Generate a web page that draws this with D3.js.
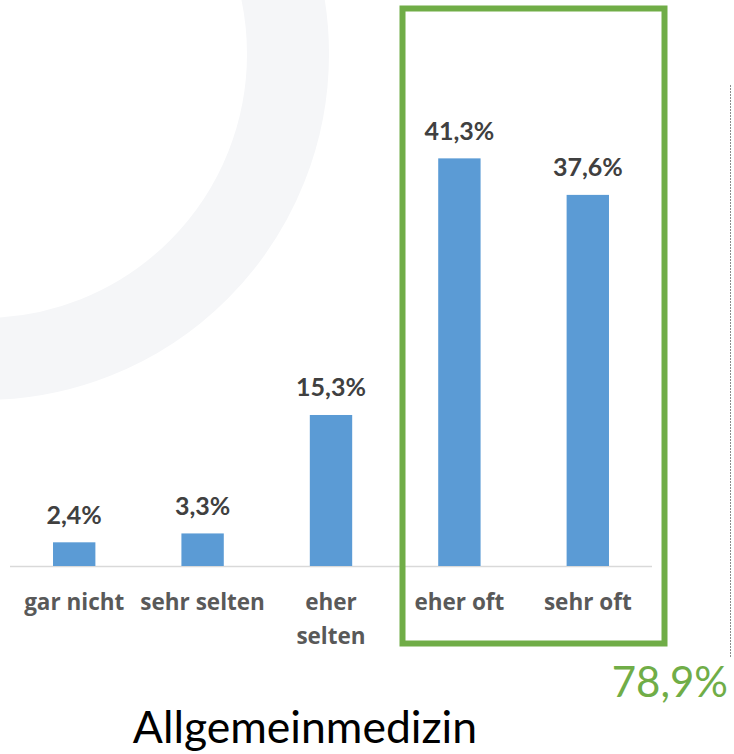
<!DOCTYPE html>
<html>
<head>
<meta charset="utf-8">
<script src="https://cdn.jsdelivr.net/npm/d3@7"></script>
<style>
  html, body { margin: 0; padding: 0; background: #fff; }
  svg { display: block; font-family: Lato, "Open Sans", sans-serif; }
</style>
</head>
<body>
<div id="chart"></div>
<script>
// values
const categories = ["gar nicht", "sehr selten", "eher selten", "eher oft", "sehr oft"]
const categoryLines = [["gar nicht"], ["sehr selten"], ["eher", "selten"], ["eher oft"], ["sehr oft"]]
const values = [2.4, 3.3, 15.3, 41.3, 37.6]
const valueLabels = ["2,4%", "3,3%", "15,3%", "41,3%", "37,6%"]
const highlightTotal = "78,9%"
const title = "Allgemeinmedizin"

const width = 734
const height = 754
const baseline = 566

const svg = d3.select("#chart")
    .append("svg")
    .attr("width", width)
    .attr("height", height)
    .attr("viewBox", [0, 0, width, height])

const layer_bg = svg.append("g")
const layer_bars = svg.append("g")
const layer_text = svg.append("g")

// faint ring from the slide template
layer_bg.append("circle")
    .attr("cx", -17)
    .attr("cy", 54)
    .attr("r", 305)
    .attr("fill", "none")
    .attr("stroke", "#f5f6f8")
    .attr("stroke-width", 82)

const x = d3.scaleBand()
    .domain(categories)
    .range([10, 652])
    .paddingInner(0.67)
    .paddingOuter(0.335)

const y = d3.scaleLinear()
    .domain([0, 45])
    .range([baseline, baseline - 45 * 9.87])

// axis line
layer_bars.append("line")
    .attr("x1", x.range()[0])
    .attr("x2", x.range()[1])
    .attr("y1", baseline + 0.5)
    .attr("y2", baseline + 0.5)
    .attr("stroke", "#d9d9d9")
    .attr("stroke-width", 1.5)

layer_bars.selectAll("rect.bar")
    .data(values)
    .enter()
    .append("rect")
    .attr("class", "bar")
    .attr("x", (d, i) => x(categories[i]))
    .attr("width", x.bandwidth())
    .attr("y", d => y(d))
    .attr("height", d => y(0) - y(d))
    .attr("fill", "#5b9bd5")

layer_text.selectAll("text.value")
    .data(values)
    .enter()
    .append("text")
    .attr("class", "value")
    .attr("x", (d, i) => x(categories[i]) + x.bandwidth() / 2)
    .attr("y", d => y(d) - 18.5)
    .attr("text-anchor", "middle")
    .attr("font-size", 25)
    .attr("font-weight", "bold")
    .attr("fill", "#404040")
    .text((d, i) => valueLabels[i])

const cat = layer_text.selectAll("text.cat")
    .data(categories)
    .enter()
    .append("text")
    .attr("class", "cat")
    .attr("text-anchor", "middle")
    .attr("font-family", "'Open Sans', sans-serif")
    .attr("font-size", 22.5)
    .attr("font-weight", "bold")
    .attr("fill", "#595959")

cat.selectAll("tspan")
    .data((d, i) => categoryLines[i].map(t => ({t, c: d})))
    .enter()
    .append("tspan")
    .attr("x", d => x(d.c) + x.bandwidth() / 2)
    .attr("y", (d, j) => 610 + j * 34)
    .text(d => d.t)

// green frame around the "often" answers
layer_bars.append("rect")
    .attr("x", 402.5)
    .attr("y", 8.5)
    .attr("width", 664.5 - 402.5)
    .attr("height", 643.5 - 8.5)
    .attr("fill", "none")
    .attr("stroke", "#70ad47")
    .attr("stroke-width", 6)

layer_text.append("text")
    .attr("x", 728)
    .attr("y", 697)
    .attr("text-anchor", "end")
    .attr("font-size", 42)
    .attr("fill", "#70ad47")
    .text(highlightTotal)

// dotted separator on the right
layer_bg.append("line")
    .attr("x1", 730.5)
    .attr("x2", 730.5)
    .attr("y1", 85)
    .attr("y2", 658)
    .attr("stroke", "#8c8c8c")
    .attr("stroke-width", 1)
    .attr("stroke-dasharray", "2,1")

layer_text.append("text")
    .attr("x", 305)
    .attr("y", 743)
    .attr("text-anchor", "middle")
    .attr("font-size", 44.5)
    .attr("fill", "#000")
    .text(title)
</script>
</body>
</html>
